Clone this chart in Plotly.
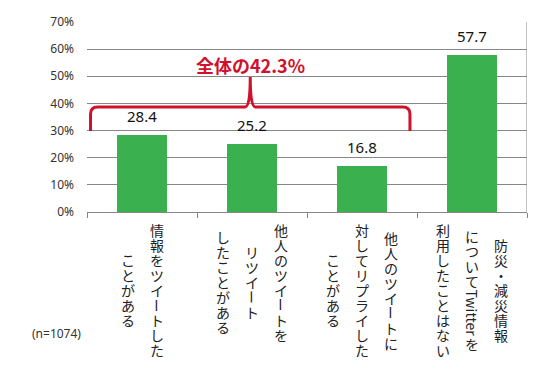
import plotly.graph_objects as go

# ---------------- data ----------------
categories = [
    "情報をツイートしたことがある",
    "他人のツイートをリツイートしたことがある",
    "他人のツイートに対してリプライしたことがある",
    "防災・減災情報についてTwitterを利用したことはない",
]
# vertical (tategaki) label columns, right-most column first
label_columns = [
    ["情報をツイートした", "ことがある"],
    ["他人のツイートを", "リツイート", "したことがある"],
    ["他人のツイートに", "対してリプライした", "ことがある"],
    ["防災・減災情報", "についてTwitterを", "利用したことはない"],
]
values = [28.4, 25.2, 16.8, 57.7]
value_labels = ["28.4", "25.2", "16.8", "57.7"]
y_ticks = [0, 10, 20, 30, 40, 50, 60, 70]
y_tick_labels = ["0%", "10%", "20%", "30%", "40%", "50%", "60%", "70%"]
bracket_label = "全体の42.3%"
sample_note = "(n=1074)"

# ---------------- styling / layout ----------------
W, H = 559, 374
L, R, T, B = 87, 32, 22, 162
PLOT_H = H - T - B
GREEN = "#3BB04E"
RED = "#D0112B"
GRID = "#868686"
JP = "Noto Sans CJK JP"

fig = go.Figure()
xs = list(range(len(categories)))
fig.add_trace(go.Bar(
    x=xs, y=values, width=0.45, marker=dict(color=GREEN, line=dict(width=0)),
    hovertext=categories, showlegend=False,
))

annotations = []
# value labels
for x, v, t in zip(xs, values, value_labels):
    annotations.append(dict(x=x, y=v, xref="x", yref="y", text=t, showarrow=False,
                            yanchor="bottom", yshift=7,
                            font=dict(family="Noto Sans", size=15, color="#111111")))

# vertical category labels (tategaki)
PITCH = 15            # vertical advance per character (px)
COL_GAP = 29          # distance between columns (px)
FS = 14               # glyph size (px)
LINE_FS = PITCH / 1.3  # base size so that plotly's 1.3em line spacing == PITCH
col_centers_px = [290, 282, 290, 290]


def units(s):
    """Split a column into groups: runs of upright chars, rotated 'ー', rotated latin words."""
    out = []
    i = 0
    while i < len(s):
        c = s[i]
        if c.isascii() and c.isalpha():
            j = i
            while j < len(s) and s[j].isascii() and s[j].isalpha():
                j += 1
            run = s[i:j]
            out.append(("rot", run, len(run) * 0.48 * FS))
            i = j
        elif c == "ー":
            out.append(("rot", c, PITCH))
            i += 1
        else:
            if out and out[-1][0] == "up":
                k, txt, h = out[-1]
                out[-1] = ("up", txt + c, h + PITCH)
            else:
                out.append(("up", c, PITCH))
            i += 1
    return out


def py_to_paper(py):
    return (H - B - py) / PLOT_H


for ci, cols in enumerate(label_columns):
    n = len(cols)
    for j, col in enumerate(cols):
        xshift = ((n - 1) / 2 - j) * COL_GAP
        us = units(col)
        total = sum(u[2] for u in us)
        cur = col_centers_px[ci] - total / 2
        for kind, txt, h in us:
            yc = cur + h / 2
            cur += h
            if kind == "up":
                text = "<br>".join(f'<span style="font-size:{FS}px">{ch}</span>' for ch in txt)
                annotations.append(dict(x=ci, y=py_to_paper(yc), xref="x", yref="paper",
                                        xshift=xshift, text=text, showarrow=False,
                                        xanchor="center", yanchor="middle", borderpad=0,
                                        font=dict(family=JP, size=LINE_FS, color="#222222")))
            else:
                annotations.append(dict(x=ci, y=py_to_paper(yc), xref="x", yref="paper",
                                        xshift=xshift, text=txt, textangle=90, showarrow=False,
                                        xanchor="center", yanchor="middle", borderpad=0,
                                        font=dict(family=JP, size=FS, color="#222222")))

# bracket label
BR_X0, BR_X1 = -0.468, 2.436
BR_YEND, BR_YLINE, BR_YPEAK = 29.8, 38.7, 49.7
mid = (BR_X0 + BR_X1) / 2
annotations.append(dict(x=mid, y=BR_YPEAK, xref="x", yref="y", text="<b>" + bracket_label + "</b>",
                        showarrow=False, yanchor="bottom", yshift=-3,
                        font=dict(family=JP, size=18, color=RED)))

# sample note
annotations.append(dict(x=(30 - L) / (W - L - R), y=py_to_paper(333), xref="paper", yref="paper",
                        text=sample_note, showarrow=False, xanchor="left", yanchor="middle",
                        font=dict(family="Noto Sans", size=12, color="#333333")))

rx, ry = 0.065, 2.6
sx = 0.045
path = (f"M {BR_X0},{BR_YEND} L {BR_X0},{BR_YLINE - ry} Q {BR_X0},{BR_YLINE} {BR_X0 + rx},{BR_YLINE} "
        f"L {mid - sx},{BR_YLINE} Q {mid},{BR_YLINE} {mid},{BR_YPEAK} "
        f"Q {mid},{BR_YLINE} {mid + sx},{BR_YLINE} "
        f"L {BR_X1 - rx},{BR_YLINE} Q {BR_X1},{BR_YLINE} {BR_X1},{BR_YLINE - ry} L {BR_X1},{BR_YEND}")

shapes = [
    dict(type="path", path=path, xref="x", yref="y", line=dict(color=RED, width=3)),
    dict(type="line", xref="x", yref="y", x0=len(categories) - 0.5, x1=len(categories) - 0.5,
         y0=0, y1=y_ticks[-1], line=dict(color=GRID, width=1)),
]

fig.update_layout(
    width=W, height=H, margin=dict(l=L, r=R, t=T, b=B),
    paper_bgcolor="white", plot_bgcolor="white",
    annotations=annotations, shapes=shapes, bargap=0,
    xaxis=dict(range=[-0.5, len(categories) - 0.5], showgrid=False, zeroline=False,
               showline=True, linecolor=GRID, linewidth=1,
               tickmode="array", tickvals=[i - 0.5 for i in range(len(categories) + 1)],
               ticks="outside", ticklen=5, tickcolor=GRID, showticklabels=False),
    yaxis=dict(range=[0, y_ticks[-1]], tickmode="array", tickvals=y_ticks, ticktext=y_tick_labels,
               showgrid=True, gridcolor=GRID, gridwidth=1, zeroline=False, showline=False,
               ticks="", ticklabelstandoff=12,
               tickfont=dict(family="Noto Sans", size=12, color="#333333")),
)

fig.write_html("out.html", config={"displayModeBar": False},
               post_script="document.body.style.margin='0';")
